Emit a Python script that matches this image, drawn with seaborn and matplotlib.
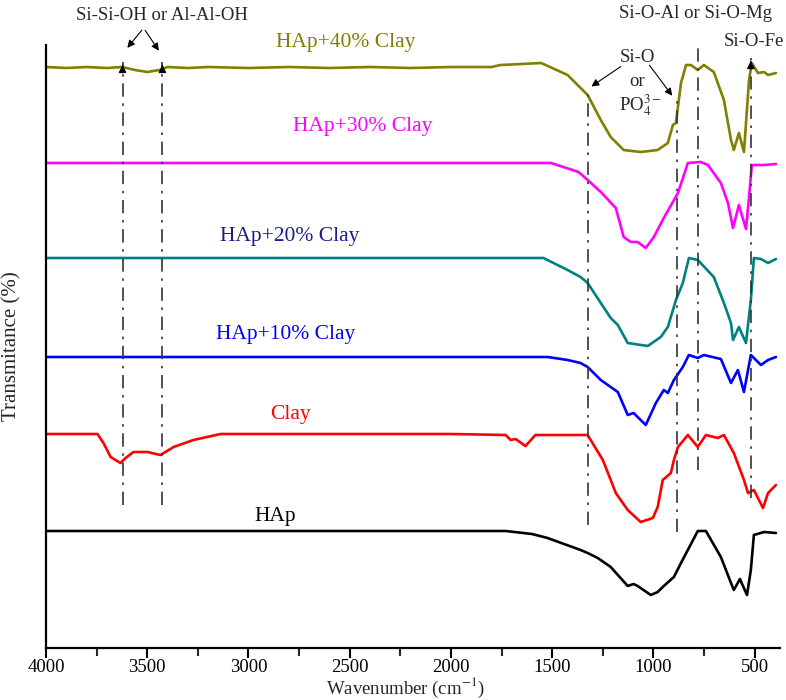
import matplotlib.pyplot as plt
import seaborn as sns
import pandas as pd
from matplotlib.ticker import MultipleLocator

# FTIR spectra, stacked (transmitance in arbitrary offset units)
wn_40 = [4000, 3900, 3800, 3700, 3625, 3560, 3500, 3440, 3400, 3300, 3200, 3000, 2800, 2600, 2400,
         2200, 2000, 1800, 1755, 1650, 1555, 1500, 1424, 1325, 1260, 1211, 1147, 1063, 979, 929,
         904, 889, 864, 839, 815, 781, 751, 702, 652, 617, 603, 578, 553, 528, 514, 484, 454, 434, 395]
t_40 = [633, 632, 633, 632, 633, 630, 628, 630, 633, 632, 633, 632, 633, 632, 633,
        632, 633, 633, 635, 636, 637, 632, 625, 605, 580, 563, 550, 548, 550, 557,
        575, 577, 617, 635, 635, 630, 635, 628, 600, 560, 550, 567, 548, 620, 637, 627, 628, 625, 627]

wn_30 = [4000, 3600, 3000, 2500, 2000, 1755, 1506, 1370, 1325, 1260, 1186, 1147, 1112, 1078, 1038,
         998, 949, 904, 879, 830, 766, 731, 667, 632, 607, 578, 543, 528, 514, 454, 395]
t_30 = [537, 537, 537, 537, 537, 537, 537, 528, 520, 508, 492, 463, 458, 458, 452,
        463, 482, 498, 507, 537, 538, 535, 517, 497, 472, 495, 471, 503, 535, 535, 536]

wn_20 = [4000, 3600, 3000, 2500, 2000, 1755, 1543, 1424, 1360, 1325, 1260, 1211, 1176, 1127, 1028,
         964, 929, 889, 855, 825, 781, 702, 652, 617, 607, 578, 543, 519, 504, 469, 434, 395]
t_20 = [442, 442, 442, 442, 442, 442, 442, 430, 423, 417, 397, 382, 375, 357, 354,
        363, 373, 400, 417, 442, 440, 423, 397, 377, 360, 373, 357, 400, 442, 441, 437, 441]

wn_10 = [4000, 3900, 3600, 3000, 2500, 2000, 1523, 1424, 1360, 1325, 1260, 1176, 1127, 1098, 1038,
         988, 949, 929, 899, 855, 825, 781, 751, 667, 617, 583, 553, 519, 469, 434, 395]
t_10 = [343, 343, 343, 343, 343, 343, 343, 340, 337, 333, 320, 308, 285, 287, 275,
        297, 310, 307, 320, 333, 345, 342, 345, 341, 317, 330, 308, 345, 335, 340, 343]

wn_clay = [4000, 3746, 3716, 3681, 3632, 3607, 3568, 3499, 3435, 3370, 3272, 3138, 2500, 2000, 1730,
           1705, 1681, 1632, 1583, 1400, 1325, 1250, 1211, 1186, 1127, 1063, 1003, 979, 954, 914,
           899, 879, 830, 781, 741, 682, 652, 603, 553, 533, 504, 459, 434, 395]
t_clay = [266, 266, 257, 243, 237, 242, 248, 248, 245, 253, 260, 266, 266, 266, 265,
          260, 261, 254, 265, 265, 265, 240, 220, 207, 190, 178, 182, 193, 220, 227,
          240, 253, 265, 253, 265, 262, 265, 247, 220, 207, 210, 192, 207, 215]

wn_hap = [4000, 3000, 2000, 1730, 1600, 1523, 1360, 1325, 1275, 1211, 1127, 1098, 1078, 1013, 979,
          949, 899, 864, 781, 741, 667, 617, 603, 573, 538, 519, 504, 454, 395]
t_hap = [169, 169, 169, 169, 166, 162, 150, 147, 142, 133, 114, 116, 114, 105, 108,
         114, 123, 137, 169, 169, 143, 117, 110, 121, 105, 130, 165, 168, 167]

samples = ["HAp+40% Clay", "HAp+30% Clay", "HAp+20% Clay", "HAp+10% Clay", "Clay", "HAp"]
line_colors = ["#808000", "#ff00ff", "#008080", "#0000ff", "#ff0000", "#000000"]
label_colors = ["#808000", "#ff00ff", "#1c1c8c", "#0000ff", "#ff0000", "#000000"]
label_pos = [(2520, 657), (2436, 573), (2797, 463), (2817, 365), (2792, 285), (2866, 183)]

# marker lines: wavenumber, top, bottom, arrowhead on top
band_wn = [3622, 3425, 1325, 884, 781, 519]
band_top = [638, 638, 605, 600, 673, 642]
band_bot = [195, 195, 175, 168, 230, 202]
band_head = [True, True, False, False, True, True]

frames = []
for name, w, t in zip(samples, [wn_40, wn_30, wn_20, wn_10, wn_clay, wn_hap],
                      [t_40, t_30, t_20, t_10, t_clay, t_hap]):
    frames.append(pd.DataFrame({"Wavenumber": w, "T": t, "Sample": name}))
df = pd.concat(frames, ignore_index=True)

sns.set_theme(style="ticks")
plt.rcParams['font.family'] = ['Liberation Serif', 'DejaVu Serif']
plt.rcParams['mathtext.fontset'] = 'stix'

fig = plt.figure(figsize=(7.86, 7.0), dpi=100)
ax = fig.add_axes([46 / 786, 52 / 700, 734 / 786, 603 / 700])

sns.lineplot(data=df, x="Wavenumber", y="T", hue="Sample", palette=line_colors,
             hue_order=samples, sort=False, estimator=None, linewidth=1.9,
             legend=False, ax=ax)

for x, top, bot, head in zip(band_wn, band_top, band_bot, band_head):
    ax.plot([x, x], [bot, top], color="#333333", lw=1.2, ls=(0, (8, 4, 1.5, 4)))
    if head:
        ax.annotate("", xy=(x, top), xytext=(x, top - 8),
                    arrowprops=dict(arrowstyle="-|>", color="black", lw=1, mutation_scale=11))

for name, c, (x, y) in zip(samples, label_colors, label_pos):
    ax.text(x, y, name, color=c, fontsize=15.5, ha="center", va="center")

arrow = dict(arrowstyle="-|>", color="black", lw=0.8, mutation_scale=11)
ax.text(3425, 685, "Si-Si-OH or Al-Al-OH", fontsize=13.5, ha="center", va="center")
ax.annotate("", xy=(3607, 650), xytext=(3518, 672), arrowprops=arrow)
ax.annotate("", xy=(3435, 647), xytext=(3518, 672), arrowprops=arrow)
ax.text(1079, 643, "Si-O", fontsize=13.5, ha="center", va="center")
ax.text(1079, 618, "or", fontsize=13.5, ha="center", va="center")
ax.text(1063, 595, "PO$_4^{3-}$", fontsize=13.5, ha="center", va="center")
ax.annotate("", xy=(1318, 612), xytext=(1150, 635), arrowprops=arrow)
ax.annotate("", xy=(899, 602), xytext=(1028, 637), arrowprops=arrow)
ax.text(792, 687, "Si-O-Al or Si-O-Mg", fontsize=13.5, ha="center", va="center")
ax.text(505, 658, "Si-O-Fe", fontsize=13.5, ha="center", va="center")

ax.set_xlim(4000, 375)
ax.set_ylim(52, 655)
ax.xaxis.set_major_locator(MultipleLocator(500))
ax.xaxis.set_minor_locator(MultipleLocator(250))
ax.tick_params(axis="x", which="major", direction="out", length=7, width=1.5, labelsize=13.5,
               colors="black", pad=1)
ax.tick_params(axis="x", which="minor", direction="out", length=6, width=1.5)
ax.set_yticks([])
sns.despine(ax=ax)
for s in ["left", "bottom"]:
    ax.spines[s].set_linewidth(1.6)
    ax.spines[s].set_color("black")

ax.set_xlabel("Wavenumber (cm$^{-1}$)", fontsize=13.5)
ax.xaxis.set_label_coords(0.49, -0.046)
ax.set_ylabel("Transmitance (%)", fontsize=15)
ax.yaxis.set_label_coords(-0.034, 0.5)

fig.savefig("out.png", dpi=100)
